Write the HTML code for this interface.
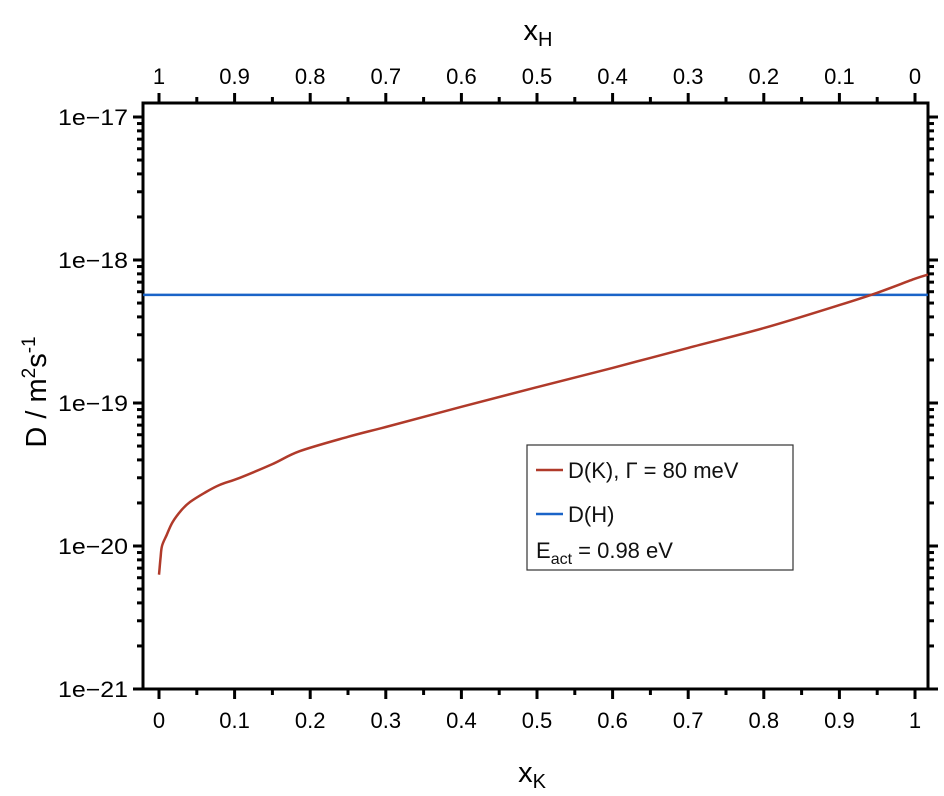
<!DOCTYPE html>
<html><head><meta charset="utf-8"><style>
body{margin:0;background:#fff;}
svg{display:block;font-family:"Liberation Sans",Arial,sans-serif;}
</style></head><body>
<svg id="chart" width="944" height="796" xmlns="http://www.w3.org/2000/svg">
<g id="axes"></g>
<g id="series"></g>
<g>
<rect x="527" y="445" width="266" height="125" fill="#fff" stroke="#333" stroke-width="1.2"/>
<line x1="536" y1="470" x2="563" y2="470" stroke="#b03a2a" stroke-width="2.5"/>
<text x="568" y="478" font-size="22" fill="#111">D(K), Γ = 80 meV</text>
<line x1="536" y1="514" x2="563" y2="514" stroke="#1a64c8" stroke-width="2.5"/>
<text x="568" y="522" font-size="22" fill="#111">D(H)</text>
<text x="536" y="558" font-size="22" fill="#111">E<tspan font-size="16" dy="6">act</tspan><tspan dy="-6"> = 0.98 eV</tspan></text>
</g>
<text x="532" y="782" font-size="29" text-anchor="middle">x<tspan font-size="20" dy="6">K</tspan></text>
<text x="538" y="40" font-size="29" text-anchor="middle">x<tspan font-size="20" dy="6">H</tspan></text>
<text transform="translate(46,392) rotate(-90)" font-size="29" text-anchor="middle">D / m<tspan font-size="19" dy="-11">2</tspan><tspan dy="11">s</tspan><tspan font-size="19" dy="-11">-1</tspan></text>
</svg>
<script>
const dkX=[0,0.002,0.004,0.01,0.018,0.03,0.041,0.06,0.08,0.107,0.15,0.186,0.25,0.3,0.4,0.5,0.6,0.7,0.8,0.9,0.95,1.0,1.017];
const dkY=[6.3e-21,8.2e-21,1.0e-20,1.19e-20,1.47e-20,1.79e-20,2.03e-20,2.35e-20,2.67e-20,3.0e-20,3.74e-20,4.6e-20,5.8e-20,6.8e-20,9.4e-20,1.29e-19,1.76e-19,2.43e-19,3.34e-19,4.84e-19,5.9e-19,7.4e-19,7.9e-19];
const dhX=[-0.021,1.017];
const dhY=[5.7e-19,5.7e-19];
const xTicks=[0,0.1,0.2,0.3,0.4,0.5,0.6,0.7,0.8,0.9,1];
const xTickLabels=["0","0.1","0.2","0.3","0.4","0.5","0.6","0.7","0.8","0.9","1"];
const topTickLabels=["1","0.9","0.8","0.7","0.6","0.5","0.4","0.3","0.2","0.1","0"];
const yDecades=[-21,-20,-19,-18,-17];
const yTickLabels=["1e\u221221","1e\u221220","1e\u221219","1e\u221218","1e\u221217"];
const L=143,R=928,T=103,B=689;
const X=v=>159+(v)*756;
const Y=v=>689-(Math.log10(v)+21)*143;
const NS="http://www.w3.org/2000/svg";
const ax=document.getElementById('axes'),se=document.getElementById('series');
function mk(tag,attrs,parent){const e=document.createElementNS(NS,tag);for(const k in attrs)e.setAttribute(k,attrs[k]);parent.appendChild(e);return e;}
const fr=mk('rect',{x:L,y:T,width:R-L,height:B-T,fill:'none',stroke:'#000','stroke-width':3},ax);


for(let i=0;i<=20;i++){const v=i*0.05,x=X(v),maj=i%2===0,len=maj?10:6;
 const a=mk('line',{x1:x,y1:B,x2:x,y2:B+len,stroke:'#000','stroke-width':3},ax);
 
 
 const b=mk('line',{x1:x,y1:T,x2:x,y2:T-len,stroke:'#000','stroke-width':3},ax);
 
 }
xTicks.forEach((v,i)=>{const t=mk('text',{x:X(v),y:728,'font-size':22,'text-anchor':'middle'},ax);t.textContent=xTickLabels[i];
 
 
 const u=mk('text',{x:X(v),y:84,'font-size':22,'text-anchor':'middle'},ax);u.textContent=topTickLabels[i];
 
 });
for(let d=-21;d<=-17;d++){for(let m=1;m<=9;m++){const v=m*Math.pow(10,d),y=Y(v);if(y<T-1||y>B+1)continue;const len=m===1?10:6;
 const a=mk('line',{x1:L,y1:y,x2:L-len,y2:y,stroke:'#000','stroke-width':3},ax);
 
 
 const b=mk('line',{x1:R,y1:y,x2:R+len,y2:y,stroke:'#000','stroke-width':3},ax);
 
 }}
yDecades.forEach((d,i)=>{const t=mk('text',{x:128,y:Y(Math.pow(10,d))+8,'font-size':22,'text-anchor':'end',textLength:70,lengthAdjust:'spacingAndGlyphs'},ax);t.textContent=yTickLabels[i];
 
 });
function smooth(xs,ys){const p=xs.map((x,i)=>[X(x),Y(ys[i])]);let d='M'+p[0][0].toFixed(1)+','+p[0][1].toFixed(1);
 for(let i=0;i<p.length-1;i++){const p0=p[i-1]||p[i],p1=p[i],p2=p[i+1],p3=p[i+2]||p2;
  const c1=[p1[0]+(p2[0]-p0[0])/6,p1[1]+(p2[1]-p0[1])/6],c2=[p2[0]-(p3[0]-p1[0])/6,p2[1]-(p3[1]-p1[1])/6];
  d+=' C'+c1.map(v=>v.toFixed(1)).join(',')+' '+c2.map(v=>v.toFixed(1)).join(',')+' '+p2.map(v=>v.toFixed(1)).join(',');}
 return d;}
const ph=mk('path',{d:smooth(dhX,dhY),fill:'none',stroke:'#1a64c8','stroke-width':2.5},se);


const pk=mk('path',{d:smooth(dkX,dkY),fill:'none',stroke:'#b03a2a','stroke-width':2.5,'stroke-linejoin':'round'},se);


</script>
</body></html>
